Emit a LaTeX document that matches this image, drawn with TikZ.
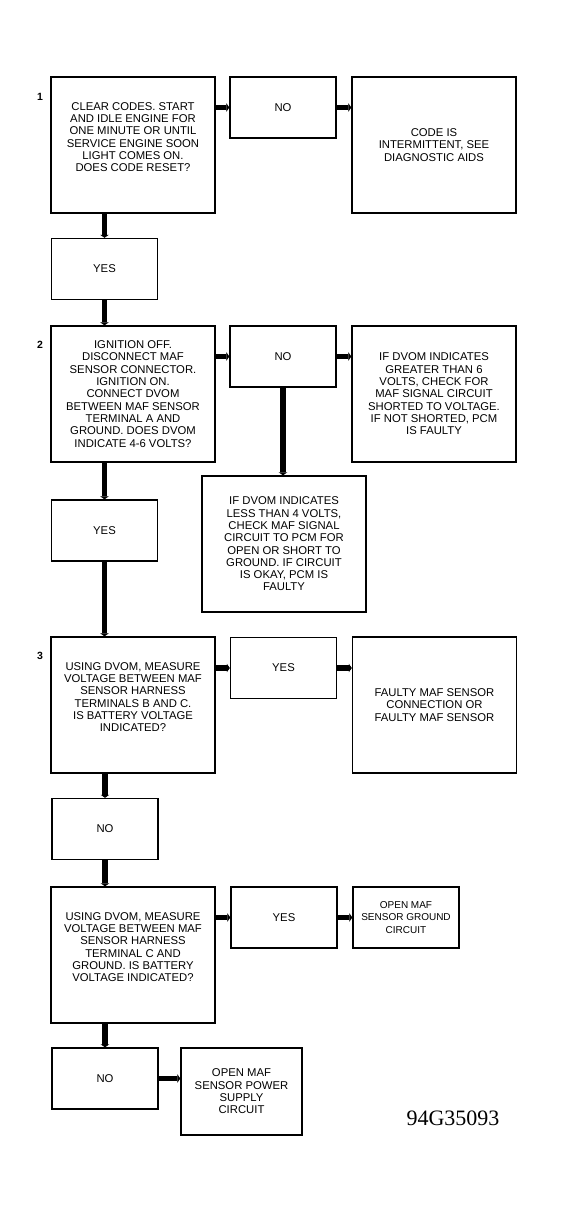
\documentclass[tikz,border=0pt]{standalone}
\usepackage{fontspec}
\setmainfont{Liberation Sans}
\newfontfamily\figfont{Liberation Serif}
\usetikzlibrary{arrows.meta}

\begin{document}
\begin{tikzpicture}[x=1pt, y=-1pt,
        every node/.style={font=\fontsize{11.3}{12.3}\selectfont, align=center, inner sep=0pt},
        stepbox/.style={draw, line width=1.4pt, minimum width=164pt, minimum height=136pt},
        raised/.style={text depth=16pt},
        answer/.style={draw, line width=1.4pt, minimum width=106pt, minimum height=61pt},
        stepnum/.style={font=\fontsize{10.5}{12}\selectfont\bfseries},
        flow/.style={line width=5.5pt, -{Triangle[length=3pt,width=8.5pt]}}]
            \useasboundingbox (0,0) rectangle (571,1211);

            % step 1
            \node[stepnum] (num1) at (40,97) {1};
            \node[stepbox, raised] (step1) at (133,145) {CLEAR CODES. START\\AND IDLE ENGINE FOR\\ONE MINUTE OR UNTIL\\SERVICE ENGINE SOON\\LIGHT COMES ON.\\DOES CODE RESET?};
            \node[answer] (no1) at (283,107.5) {NO};
            \node[stepbox] (res1) at (434,145) {CODE IS\\INTERMITTENT, SEE\\DIAGNOSTIC AIDS};
            \node[answer] (yes1) at (104.5,269) {YES};

            % step 2
            \node[stepnum] (num2) at (40,345) {2};
            \node[stepbox] (step2) at (133,394) {IGNITION OFF.\\DISCONNECT MAF\\SENSOR CONNECTOR.\\IGNITION ON.\\CONNECT DVOM\\BETWEEN MAF SENSOR\\TERMINAL A AND\\GROUND. DOES DVOM\\INDICATE 4-6 VOLTS?};
            \node[answer] (no2) at (283,356.5) {NO};
            \node[stepbox] (res2) at (434,394) {IF DVOM INDICATES\\GREATER THAN 6\\VOLTS, CHECK FOR\\MAF SIGNAL CIRCUIT\\SHORTED TO VOLTAGE.\\IF NOT SHORTED, PCM\\IS FAULTY};
            \node[stepbox] (low2) at (284,544) {IF DVOM INDICATES\\LESS THAN 4 VOLTS,\\CHECK MAF SIGNAL\\CIRCUIT TO PCM FOR\\OPEN OR SHORT TO\\GROUND. IF CIRCUIT\\IS OKAY, PCM IS\\FAULTY};
            \node[answer] (yes2) at (104.5,530.5) {YES};

            % step 3
            \node[stepnum] (num3) at (40,656) {3};
            \node[stepbox, raised] (step3) at (133,705) {USING DVOM, MEASURE\\VOLTAGE BETWEEN MAF\\SENSOR HARNESS\\TERMINALS B AND C.\\IS BATTERY VOLTAGE\\INDICATED?};
            \node[answer] (yes3) at (283.5,668) {YES};
            \node[stepbox] (res3) at (434.5,705) {FAULTY MAF SENSOR\\CONNECTION OR\\FAULTY MAF SENSOR};
            \node[answer] (no3) at (105,829) {NO};

            % step 4
            \node[stepbox, raised] (step4) at (133,955) {USING DVOM, MEASURE\\VOLTAGE BETWEEN MAF\\SENSOR HARNESS\\TERMINAL C AND\\GROUND. IS BATTERY\\VOLTAGE INDICATED?};
            \node[answer] (yes4) at (284,917.5) {YES};
            \node[answer, font=\fontsize{10}{12.3}\selectfont] (res4) at (406,917.5) {OPEN MAF\\SENSOR GROUND\\CIRCUIT};
            \node[answer] (no4) at (105,1078.5) {NO};
            \node[answer, minimum width=121pt, minimum height=87pt] (res5) at (241.5,1091.5) {OPEN MAF\\SENSOR POWER\\SUPPLY\\CIRCUIT};

            \node[font=\figfont\fontsize{22}{22}\selectfont] (figid) at (453,1118) {94G35093};

            % connectors
            \draw[flow] (step1.east |- no1.west) -- (no1.west);
            \draw[flow] (no1.east) -- (res1.west |- no1.east);
            \draw[flow] (step1.south -| yes1.north) -- (yes1.north);
            \draw[flow] (yes1.south) -- (step2.north -| yes1.south);
            \draw[flow] (step2.east |- no2.west) -- (no2.west);
            \draw[flow] (no2.east) -- (res2.west |- no2.east);
            \draw[flow] (no2.south) -- (low2.north -| no2.south);
            \draw[flow] (step2.south -| yes2.north) -- (yes2.north);
            \draw[flow] (yes2.south) -- (step3.north -| yes2.south);
            \draw[flow] (step3.east |- yes3.west) -- (yes3.west);
            \draw[flow] (yes3.east) -- (res3.west |- yes3.east);
            \draw[flow] (step3.south -| no3.north) -- (no3.north);
            \draw[flow] (no3.south) -- (step4.north -| no3.south);
            \draw[flow] (step4.east |- yes4.west) -- (yes4.west);
            \draw[flow] (yes4.east) -- (res4.west |- yes4.east);
            \draw[flow] (step4.south -| no4.north) -- (no4.north);
            \draw[flow] (no4.east) -- (res5.west |- no4.east);
          \end{tikzpicture}
\end{document}
